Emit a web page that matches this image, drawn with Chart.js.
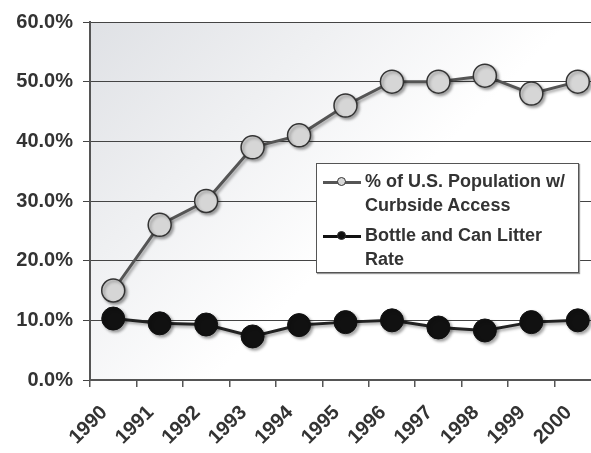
<!DOCTYPE html>
<html>
<head>
<meta charset="utf-8">
<script src="https://cdn.jsdelivr.net/npm/chart.js@4"></script>
<style>
  html, body { margin: 0; padding: 0; background: #fff; overflow: hidden; }
  #wrap { position: relative; width: 614px; height: 453px; }
  #legend {
    position: absolute; left: 316px; top: 163px; width: 261px; height: 108px;
    border: 1px solid #555; background: #fff; box-shadow: 1px 1px 1px #999;
    font: bold 18px "Liberation Sans", Arial, sans-serif; color: #333;
  }
  .item { position: absolute; left: 48px; line-height: 24px; }
  .sym { position: absolute; left: 6px; width: 38px; height: 3px; }
  .sym i { position: absolute; left: 14px; top: -4px; width: 9px; height: 9px; border-radius: 50%; border: 1px solid #333; box-sizing: border-box; }
</style>
</head>
<body>
<div id="wrap">
  <canvas id="chart" width="614" height="453"></canvas>
  <div id="legend">
    <div class="sym" style="top:17px;background:#555"><i style="background:#d8d8d8"></i></div>
    <div class="item" style="top:5px">% of U.S. Population w/<br>Curbside Access</div>
    <div class="sym" style="top:71px;background:#111"><i style="background:#111"></i></div>
    <div class="item" style="top:59px">Bottle and Can Litter<br>Rate</div>
  </div>
</div>
<script>
const years = ['1990', '1991', '1992', '1993', '1994', '1995', '1996', '1997', '1998', '1999', '2000'];
const curbside = [15, 26, 30, 39, 41, 46, 50, 50, 51, 48, 50];
const litter = [10.3, 9.5, 9.3, 7.3, 9.2, 9.7, 10, 8.8, 8.3, 9.7, 10];
const yTicks = [0, 10, 20, 30, 40, 50, 60];

// shaded plot background
const plotBg = {
  id: 'plotBg',
  beforeDraw(chart) {
    const { ctx, chartArea: a } = chart;
    const g = ctx.createLinearGradient(a.left, a.top, a.left + 240, a.top + 240);
    g.addColorStop(0, '#dfe1e5');
    g.addColorStop(1, '#ffffff');
    ctx.save();
    ctx.fillStyle = g;
    ctx.fillRect(a.left, a.top, a.right - a.left, a.bottom - a.top);
    ctx.restore();
  }
};

// soft drop shadow under the markers
const markerShadow = {
  id: 'markerShadow',
  beforeDatasetDraw(chart) {
    const ctx = chart.ctx;
    ctx.save();
    ctx.shadowColor = 'rgba(0,0,0,0.35)';
    ctx.shadowBlur = 3;
    ctx.shadowOffsetX = 2;
    ctx.shadowOffsetY = 2;
  },
  afterDatasetDraw(chart) {
    chart.ctx.restore();
  }
};

const yFont = { family: '"Liberation Sans", Arial, sans-serif', size: 20, weight: 'bold' };
const xFont = { family: '"Liberation Sans", Arial, sans-serif', size: 20, weight: 'bold' };

new Chart(document.getElementById('chart'), {
  type: 'line',
  data: {
    labels: years,
    datasets: [
      { label: '% of U.S. Population w/ Curbside Access', data: curbside, borderColor: '#555', borderWidth: 3,
        pointBackgroundColor: '#d6d6d6', pointBorderColor: '#333', pointBorderWidth: 1.5, pointRadius: 11.5, tension: 0 },
      { label: 'Bottle and Can Litter Rate', data: litter, borderColor: '#222', borderWidth: 3,
        pointBackgroundColor: '#111', pointBorderColor: '#111', pointBorderWidth: 1, pointRadius: 11.5, tension: 0 }
    ]
  },
  options: {
    responsive: false,
    animation: false,
    layout: { padding: { top: 20, right: 0, left: 0, bottom: 0 } },
    plugins: { legend: { display: false }, tooltip: { enabled: false } },
    scales: {
      x: {
        offset: true,
        grid: { offset: true, drawOnChartArea: false, drawTicks: true, tickLength: 7, color: '#555', lineWidth: 1.5 },
        border: { color: '#555', width: 2 },
        ticks: { font: xFont, color: '#333', minRotation: 45, maxRotation: 45, padding: 14, labelOffset: -9 },
        afterFit(s) { s.height = 73; }
      },
      y: {
        min: 0, max: 60,
        afterBuildTicks(s) { s.ticks = yTicks.map(v => ({ value: v })); },
        grid: { color: '#444', lineWidth: 1, tickLength: 7 },
        border: { color: '#555', width: 2 },
        ticks: { font: yFont, color: '#333', padding: 10, callback: v => v.toFixed(1) + '%' },
        afterFit(s) { s.width = 90; }
      }
    }
  },
  plugins: [plotBg, markerShadow]
});
</script>
</body>
</html>
